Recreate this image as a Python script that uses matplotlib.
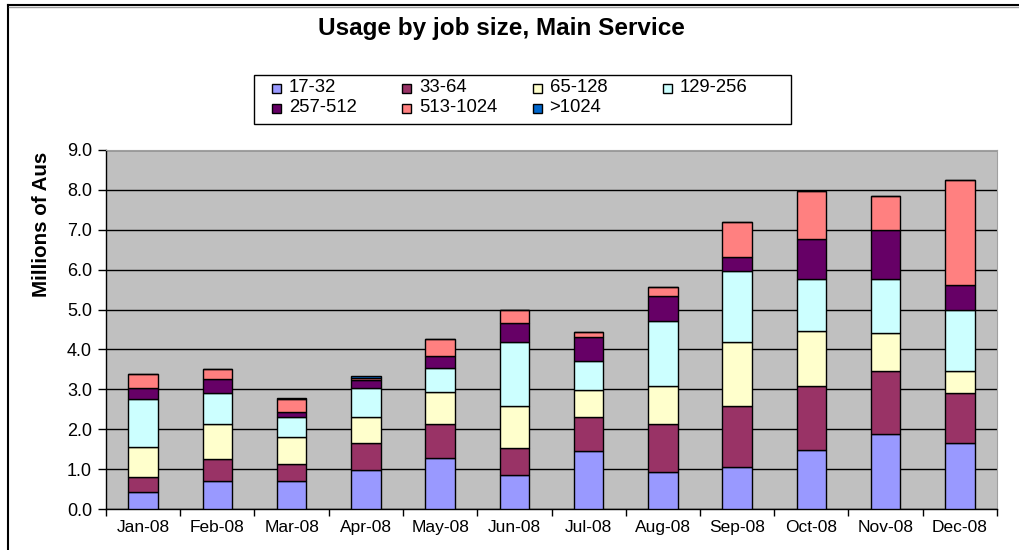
import matplotlib.pyplot as plt
from matplotlib.patches import Rectangle
from matplotlib.lines import Line2D
import numpy as np

plt.rcParams['font.family'] = ['Liberation Sans', 'DejaVu Sans']

months = ["Jan-08", "Feb-08", "Mar-08", "Apr-08", "May-08", "Jun-08",
          "Jul-08", "Aug-08", "Sep-08", "Oct-08", "Nov-08", "Dec-08"]
sizes = ["17-32", "33-64", "65-128", "129-256", "257-512", "513-1024", ">1024"]
colors = ["#9999FF", "#993366", "#FFFFCC", "#CCFFFF", "#660066", "#FF8080", "#0066CC"]

# millions of AUs per job size band
s17_32 = [0.43, 0.71, 0.71, 0.98, 1.29, 0.85, 1.45, 0.94, 1.06, 1.48, 1.88, 1.65]
s33_64 = [0.38, 0.54, 0.43, 0.67, 0.83, 0.69, 0.86, 1.18, 1.53, 1.61, 1.58, 1.25]
s65_128 = [0.75, 0.87, 0.67, 0.66, 0.82, 1.05, 0.67, 0.97, 1.60, 1.38, 0.94, 0.56]
s129_256 = [1.21, 0.78, 0.50, 0.72, 0.59, 1.60, 0.74, 1.62, 1.78, 1.30, 1.37, 1.53]
s257_512 = [0.26, 0.36, 0.13, 0.20, 0.31, 0.48, 0.60, 0.64, 0.36, 0.99, 1.22, 0.63]
s513_1024 = [0.35, 0.24, 0.31, 0.06, 0.43, 0.31, 0.11, 0.22, 0.86, 1.21, 0.86, 2.63]
s1024_up = [0.0, 0.0, 0.04, 0.05, 0.0, 0.0, 0.0, 0.0, 0.0, 0.0, 0.0, 0.0]

series = [s17_32, s33_64, s65_128, s129_256, s257_512, s513_1024, s1024_up]

W, H = 1020, 550
fig = plt.figure(figsize=(W / 100, H / 100), dpi=100)
ax = fig.add_axes([106 / W, 1 - 509 / H, (997 - 106) / W, (509 - 150) / H])
ax.set_facecolor("#C0C0C0")

x = np.arange(len(months))
bottom = np.zeros(len(months))
for vals, col in zip(series, colors):
    ax.bar(x, vals, 0.4, bottom=bottom, color=col, edgecolor="black",
           linewidth=1.0, zorder=3)
    bottom += np.array(vals)

ax.set_ylim(0, 9)
ax.set_xlim(-0.5, 11.5)
yt = np.arange(0, 9.5, 1.0)
ax.set_yticks(yt)
ax.set_yticklabels([f"{v:.1f}" for v in yt], fontsize=13)
ax.yaxis.grid(True, color="black", linewidth=1.0, zorder=1)
ax.set_axisbelow(True)

ax.set_xticks(np.arange(-0.5, 12, 1.0))
ax.set_xticklabels([])
ax.set_xticks(x, minor=True)
ax.set_xticklabels(months, minor=True, fontsize=12.5)
ax.tick_params(axis="x", which="minor", length=0, pad=8)
ax.tick_params(axis="x", which="major", length=5, direction="out", width=1)
ax.tick_params(axis="y", length=6, direction="out", width=1, pad=4)

for s in ["top", "right"]:
    ax.spines[s].set_color("#A0A0A0")
for s in ["left", "bottom"]:
    ax.spines[s].set_color("black")
    ax.spines[s].set_linewidth(1.0)

fig.text(501 / W, 1 - 29 / H, "Usage by job size, Main Service",
         ha="center", va="center", fontsize=17.5, fontweight="bold")
fig.text(42 / W, 1 - 224 / H, "Millions of Aus", rotation=90,
         ha="center", va="center", fontsize=14.8, fontweight="bold")

# legend box drawn in Excel's fixed-width grid
fig.add_artist(Rectangle((254 / W, 1 - 124 / H), (791 - 254) / W, (124 - 75) / H,
                         facecolor="white", edgecolor="black", linewidth=1.0))
for i, (lab, col) in enumerate(zip(sizes, colors)):
    r, c = divmod(i, 4)
    mx = 272 + 130.3 * c
    my = 88 + 20 * r
    fig.add_artist(Rectangle((mx / W, 1 - (my + 4.5) / H), 9 / W, 9 / H,
                             facecolor=col, edgecolor="black", linewidth=1.0))
    fig.text((mx + 17) / W, 1 - my / H, lab, ha="left", va="center", fontsize=13.3)

# outer chart border
fig.add_artist(Line2D([8 / W, 8 / W], [0, 1 - 5 / H], color="black", linewidth=1.5))
fig.add_artist(Line2D([8 / W, 1], [1 - 5 / H, 1 - 5 / H], color="black", linewidth=1.5))
fig.add_artist(Line2D([9 / W, 1], [1 - 6.5 / H, 1 - 6.5 / H], color="#A0A0A0", linewidth=1.0))

fig.savefig("out.png", dpi=100)
